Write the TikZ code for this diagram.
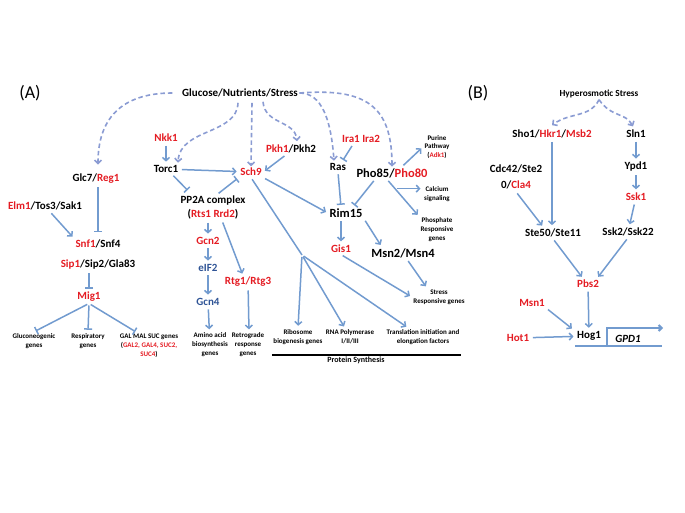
\documentclass[tikz,border=0pt]{standalone}
\usepackage{fontspec}
\setmainfont{Carlito}
\usetikzlibrary{calc}
\usetikzlibrary{arrows.meta}
\definecolor{pathblue}{RGB}{114,155,207}
\definecolor{sigblue}{RGB}{139,156,211}
\definecolor{hitred}{RGB}{228,28,35}
\definecolor{navyprot}{RGB}{47,84,150}
\newcommand{\hit}[1]{\textcolor{hitred}{#1}}
\tikzset{
	>={Straight Barb[length=3.3pt,width=7pt]},
	prot/.style={font=\bfseries\fontsize{11}{13}\selectfont, inner sep=1.5pt},
	bigprot/.style={font=\bfseries\fontsize{12.5}{14}\selectfont, inner sep=1.5pt},
	hitprot/.style={prot, text=hitred},
	navy/.style={prot, text=navyprot},
	readout/.style={font=\bfseries\fontsize{7}{8.9}\selectfont, align=center, inner sep=1.5pt},
	panel/.style={font=\fontsize{18}{19}\selectfont},
	act/.style={draw=pathblue, line width=1.5pt, ->, shorten >=2pt, shorten <=2pt},
	inh/.style={draw=pathblue, line width=1.5pt, -{Bar[width=8pt]}, shorten >=2pt, shorten <=2pt},
	plain/.style={draw=pathblue, line width=1.5pt, shorten <=2pt},
	signal/.style={draw=sigblue, line width=1.6pt, dash pattern=on 4.5pt off 3pt, ->},
}
\begin{document}
\begin{tikzpicture}
		[x=1pt, y=-1pt]
		\useasboundingbox (0,0) rectangle (685,513);
		% panel A
		\node[panel] (labA) at (30,93) {(A)};
		\node[prot] (glu) at (240,93) {Glucose/Nutrients/Stress};
		\node[hitprot] (nkk) at (166,138) {Nkk1};
		\node[prot] (torc) at (166,169) {Torc1};
		\node[hitprot] (sch9) at (251,172) {Sch9};
		\node[prot] (pkh) at (291,149) {\hit{Pkh1}/Pkh2};
		\node[hitprot] (ira) at (361,139) {Ira1 Ira2};
		\node[prot] (ras) at (338,167) {Ras};
		\node[bigprot] (pho) at (392,173) {Pho85/\hit{Pho80}};
		\node[readout] (purine) at (437,147) {Purine\\Pathway\\(\hit{Adk1})};
		\node[readout] (calc) at (437,194) {Calcium\\signaling};
		\node[readout] (phos) at (437,230) {Phosphate\\Responsive\\genes};
		\node[bigprot] (rim) at (346,213) {Rim15};
		\node[hitprot] (gis) at (341,249) {Gis1};
		\node[bigprot] (msn) at (403,253) {Msn2/Msn4};
		\node[readout] (stress) at (439,297) {Stress\\Responsive genes};
		\node[readout] (ribo) at (298,337) {Ribosome\\biogenesis genes};
		\node[readout] (rnapol) at (350,337) {RNA Polymerase\\I/II/III};
		\node[readout] (transl) at (423,337) {Translation initiation and\\elongation factors};
		\node[readout, font=\bfseries\fontsize{8}{9}\selectfont] (protsyn) at (356,360) {Protein Synthesis};
		\coordinate (ps) at (302,255);
		\node[prot] (pp2a) at (213,201) {PP2A complex};
		\node[prot] (rts) at (213,214) {(\hit{Rts1 Rrd2})};
		\node[hitprot] (gcn2) at (208,241) {Gcn2};
		\node[navy] (eif) at (208,268) {eIF2};
		\node[navy] (gcn4) at (208,302) {Gcn4};
		\node[readout] (amino) at (210,345) {Amino acid\\biosynthesis\\genes};
		\node[hitprot] (rtg) at (248,282) {Rtg1/Rtg3};
		\node[readout] (retro) at (248,345) {Retrograde\\response\\genes};
		\node[prot] (glc) at (96,179) {Glc7/\hit{Reg1}};
		\node[prot] (elm) at (45,206) {\hit{Elm1}/Tos3/Sak1};
		\node[prot] (snf) at (98,244) {\hit{Snf1}/Snf4};
		\node[prot] (sip) at (98,265) {\hit{Sip1}/Sip2/Gla83};
		\node[hitprot] (mig) at (89,297) {Mig1};
		\node[readout] (glucon) at (34,341) {Gluconeogenic\\genes};
		\node[readout] (resp) at (88,341) {Respiratory\\genes};
		\node[readout] (gal) at (149,346) {GAL MAL SUC genes\\(\hit{GAL2, GAL4, SUC2,}\\\hit{SUC4})};

		% nutrient signals
		\draw[signal] ($(glu.west)+(-8,0)$) .. controls (120,93) and (98,120) .. ($(glc.north)+(2,-8)$);
		\draw[signal] ($(glu.south)+(-2,4)$) .. controls (237,135) and (180,128) .. ($(torc.north)+(12,-1)$);
		\draw[signal] ($(glu.south)+(12,4)$) -- (sch9.north);
		\draw[signal] ($(glu.south)+(23,3)$) .. controls (265,125) and (295,120) .. ($(pkh.north)+(6,-2)$);
		\draw[signal] (glu.east) .. controls (322,93) and (331,120) .. ($(ras.north)+(-4,-1)$);
		\draw[signal] (glu.east) .. controls (365,88) and (392,105) .. (pho.north);

		% TORC1 / Sch9 branch
		\draw[act] (nkk) -- (torc);
		\draw[act] (torc) -- (sch9);
		\draw[act] ($(pkh.south)+(-5,0)$) -- (sch9.east);
		\draw[inh] ($(torc.south)+(6,0)$) -- ($(pp2a.north west)+(10,-3)$);
		\draw[inh] ($(pp2a.north)+(4,0)$) -- (sch9.south west);
		\draw[act] (rts.south -| gcn2) -- (gcn2.north);
		\draw[act] ($(rts.south)+(9,0)$) -- ($(rtg.north)+(-5,0)$);
		\draw[act] (gcn2) -- (eif);
		\draw[act] (eif) -- (gcn4);
		\draw[act] (gcn4) -- (amino);
		\draw[act] (rtg) -- ($(retro.north)+(1,0)$);
		\draw[plain] (sch9.south) -- (ps);
		\draw[act] (ps) -- (ribo.north);
		\draw[act] (ps) -- ($(rnapol.north)+(-5,0)$);
		\draw[act] (ps) -- ($(transl.north)+(-15,0)$);
		\draw[black, line width=1.5pt] (ribo.south west |- protsyn.north) -- (transl.south east |- protsyn.north);
		\draw[act] (sch9.south east) -- (rim.west);

		% Ras / PKA and Pho85 branch
		\draw[inh] ($(ira.south)+(-8,0)$) -- ($(ras.north)+(4,0)$);
		\draw[inh] (ras.south) -- ($(rim.north)+(-5,0)$);
		\draw[inh] ($(pho.south)+(-17,0)$) -- ($(rim.north)+(7,0)$);
		\draw[act] ($(pho.north)+(10,0)$) -- (purine.west);
		\draw[act] ($(pho.south)+(-5,0)$) -- coordinate[pos=0.25] (cb) (phos.north west);
		\draw[act] (cb) -- (cb -| calc.west);
		\draw[act] (rim.south -| gis) -- (gis.north);
		\draw[act] (rim.south east) -- ($(msn.north west)+(12,0)$);
		\draw[act] (gis.south) -- (stress.west);
		\draw[act] ($(msn.south)+(4,0)$) -- ($(stress.north)+(-12,0)$);

		% Snf1 branch
		\draw[inh] (glc.south -| snf) -- ($(snf.north)+(0,-4)$);
		\draw[act] ($(elm.south)+(5,0)$) -- (snf.north west);
		\draw[inh] (sip.south -| mig) -- (mig.north);
		\draw[inh] (mig.south) -- (glucon.north);
		\draw[inh] (mig.south) -- (resp.north);
		\draw[inh] (mig.south) -- ($(gal.north)+(-12,0)$);

		% panel B
		\node[panel] (labB) at (478,93) {(B)};
		\node[prot, font=\bfseries\fontsize{9.3}{10}\selectfont] (hyper) at (599,94) {Hyperosmotic Stress};
		\node[prot] (sho) at (552,134) {Sho1/\hit{Hkr1}/\hit{Msb2}};
		\node[prot] (sln) at (636,134) {Sln1};
		\node[prot] (ypd) at (636,167) {Ypd1};
		\node[hitprot] (ssk1) at (636,197) {Ssk1};
		\node[prot, align=center, font=\bfseries\fontsize{11}{16}\selectfont] (cdc) at (516,177) {Cdc42/Ste2\\0/\hit{Cla4}};
		\node[prot] (ste) at (553,233) {Ste50/Ste11};
		\node[prot] (ssk2) at (628,232) {Ssk2/Ssk22};
		\node[hitprot] (pbs) at (588,284) {Pbs2};
		\node[hitprot] (msn1) at (532,303) {Msn1};
		\node[hitprot] (hot) at (518,338) {Hot1};
		\node[prot] (hog) at (589,336) {Hog1};
		\node[prot, font=\bfseries\itshape\fontsize{11}{13}\selectfont] (gpd) at (628,339) {GPD1};
		\coordinate (gs) at (575,346);
		\coordinate (ge) at (662,346);
		\coordinate (tss) at (607,346);

		\draw[signal] (hyper.south) .. controls (590,118) and (570,112) .. ($(sho.north)+(0,-3)$);
		\draw[signal] (hyper.south) .. controls (612,118) and (625,112) .. ($(sln.north)+(-3,-2)$);
		\draw[act] (sho) -- (sho |- ste.north);
		\draw[act] ($(cdc.south)+(0,1)$) -- ($(ste.north west)+(20,0)$);
		\draw[act] (sln) -- (ypd);
		\draw[act] (ypd) -- (ssk1);
		\draw[act] (ssk1) -- (ssk2);
		\draw[act] (ste.south) -- ($(pbs.north)+(-5,0)$);
		\draw[act] (ssk2.south) -- ($(pbs.north)+(9,0)$);
		\draw[act] (pbs) -- (hog);
		\draw[act] (msn1.south east) -- ($(hog.north west)+(-2,0)$);
		\draw[act] (hot) -- (hog);
		\draw[pathblue, line width=2.5pt] (gs) -- (ge);
		\draw[pathblue, line width=2pt, -{Straight Barb[length=3pt,width=6pt]}] (tss) -- ++(0,-18) -- ++(56,0);
\end{tikzpicture}
\end{document}
